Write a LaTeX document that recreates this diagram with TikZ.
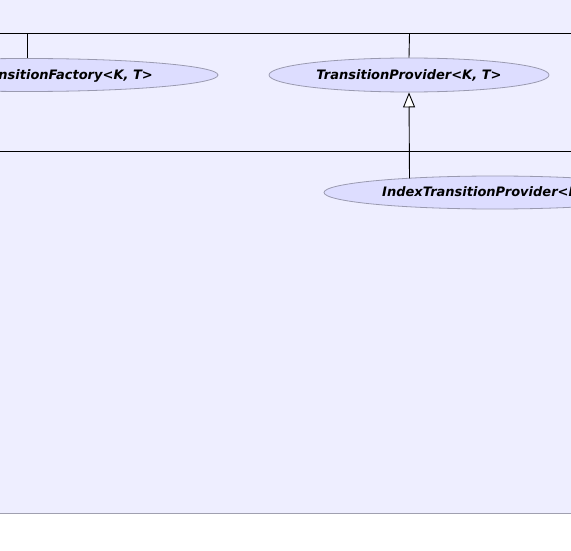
\documentclass[tikz,border=0pt]{standalone}
\usepackage{fontspec}
\setmainfont{DejaVu Sans}
\usetikzlibrary{shapes.geometric,arrows.meta}
\definecolor{bgc}{HTML}{EEEEFF}
\definecolor{ellfill}{HTML}{DDDDFF}
\definecolor{elldraw}{HTML}{9A9AB0}
\definecolor{edgec}{HTML}{A0A0B0}
\tikzset{
  ell/.style={ellipse, draw=elldraw, fill=ellfill, line width=0.8pt, inner sep=0pt},
  lbl/.style={font=\fontsize{13}{15}\selectfont\bfseries\itshape, inner sep=0pt},
  rel/.style={draw=black, line width=0.9pt},
  gen/.style={rel, -{Triangle[open, length=15pt, width=12pt, fill=white]}}
}
\begin{document}
\begin{tikzpicture}[x=1pt,y=-1pt]
\useasboundingbox (0,0) rectangle (571,551);
\fill[bgc] (0,0) rectangle (571,513);
\draw[edgec, line width=1pt] (0,513.5) -- (571,513.5);
\begin{scope}
\clip (0,0) rectangle (571,513);
% horizontal rails
\coordinate (r1l) at (0,33.5);
\coordinate (r1r) at (571,33.5);
\coordinate (r2l) at (0,151.5);
\coordinate (r2r) at (571,151.5);
\draw[rel] (r1l) -- (r1r);
\draw[rel] (r2l) -- (r2r);
% nodes
\node[ell, minimum width=382pt, minimum height=33pt] (fac) at (27,75) {};
\node[lbl, anchor=east] (facl) at (153,75.5) {TransitionFactory<K, T>};
\node[ell, minimum width=280pt, minimum height=34pt] (prov) at (409,75) {};
\node[lbl] (provl) at (409,75.5) {TransitionProvider<K, T>};
\node[ell, minimum width=342pt, minimum height=33pt] (idx) at (495,192.5) {};
\node[lbl, anchor=west] (idxl) at (382,192.5) {IndexTransitionProvider<K, T>};
% connectors
\coordinate (c1) at (27.5,33.5);
\coordinate (c2) at (409.5,33.5);
\draw[rel] (c1) -- (fac.north -| c1);
\draw[rel] (c2) -- (prov.north);
\coordinate (idxtop) at (409.5,178.3);
\draw[gen] (idxtop) -- (prov.south);
\end{scope}
\end{tikzpicture}
\end{document}
